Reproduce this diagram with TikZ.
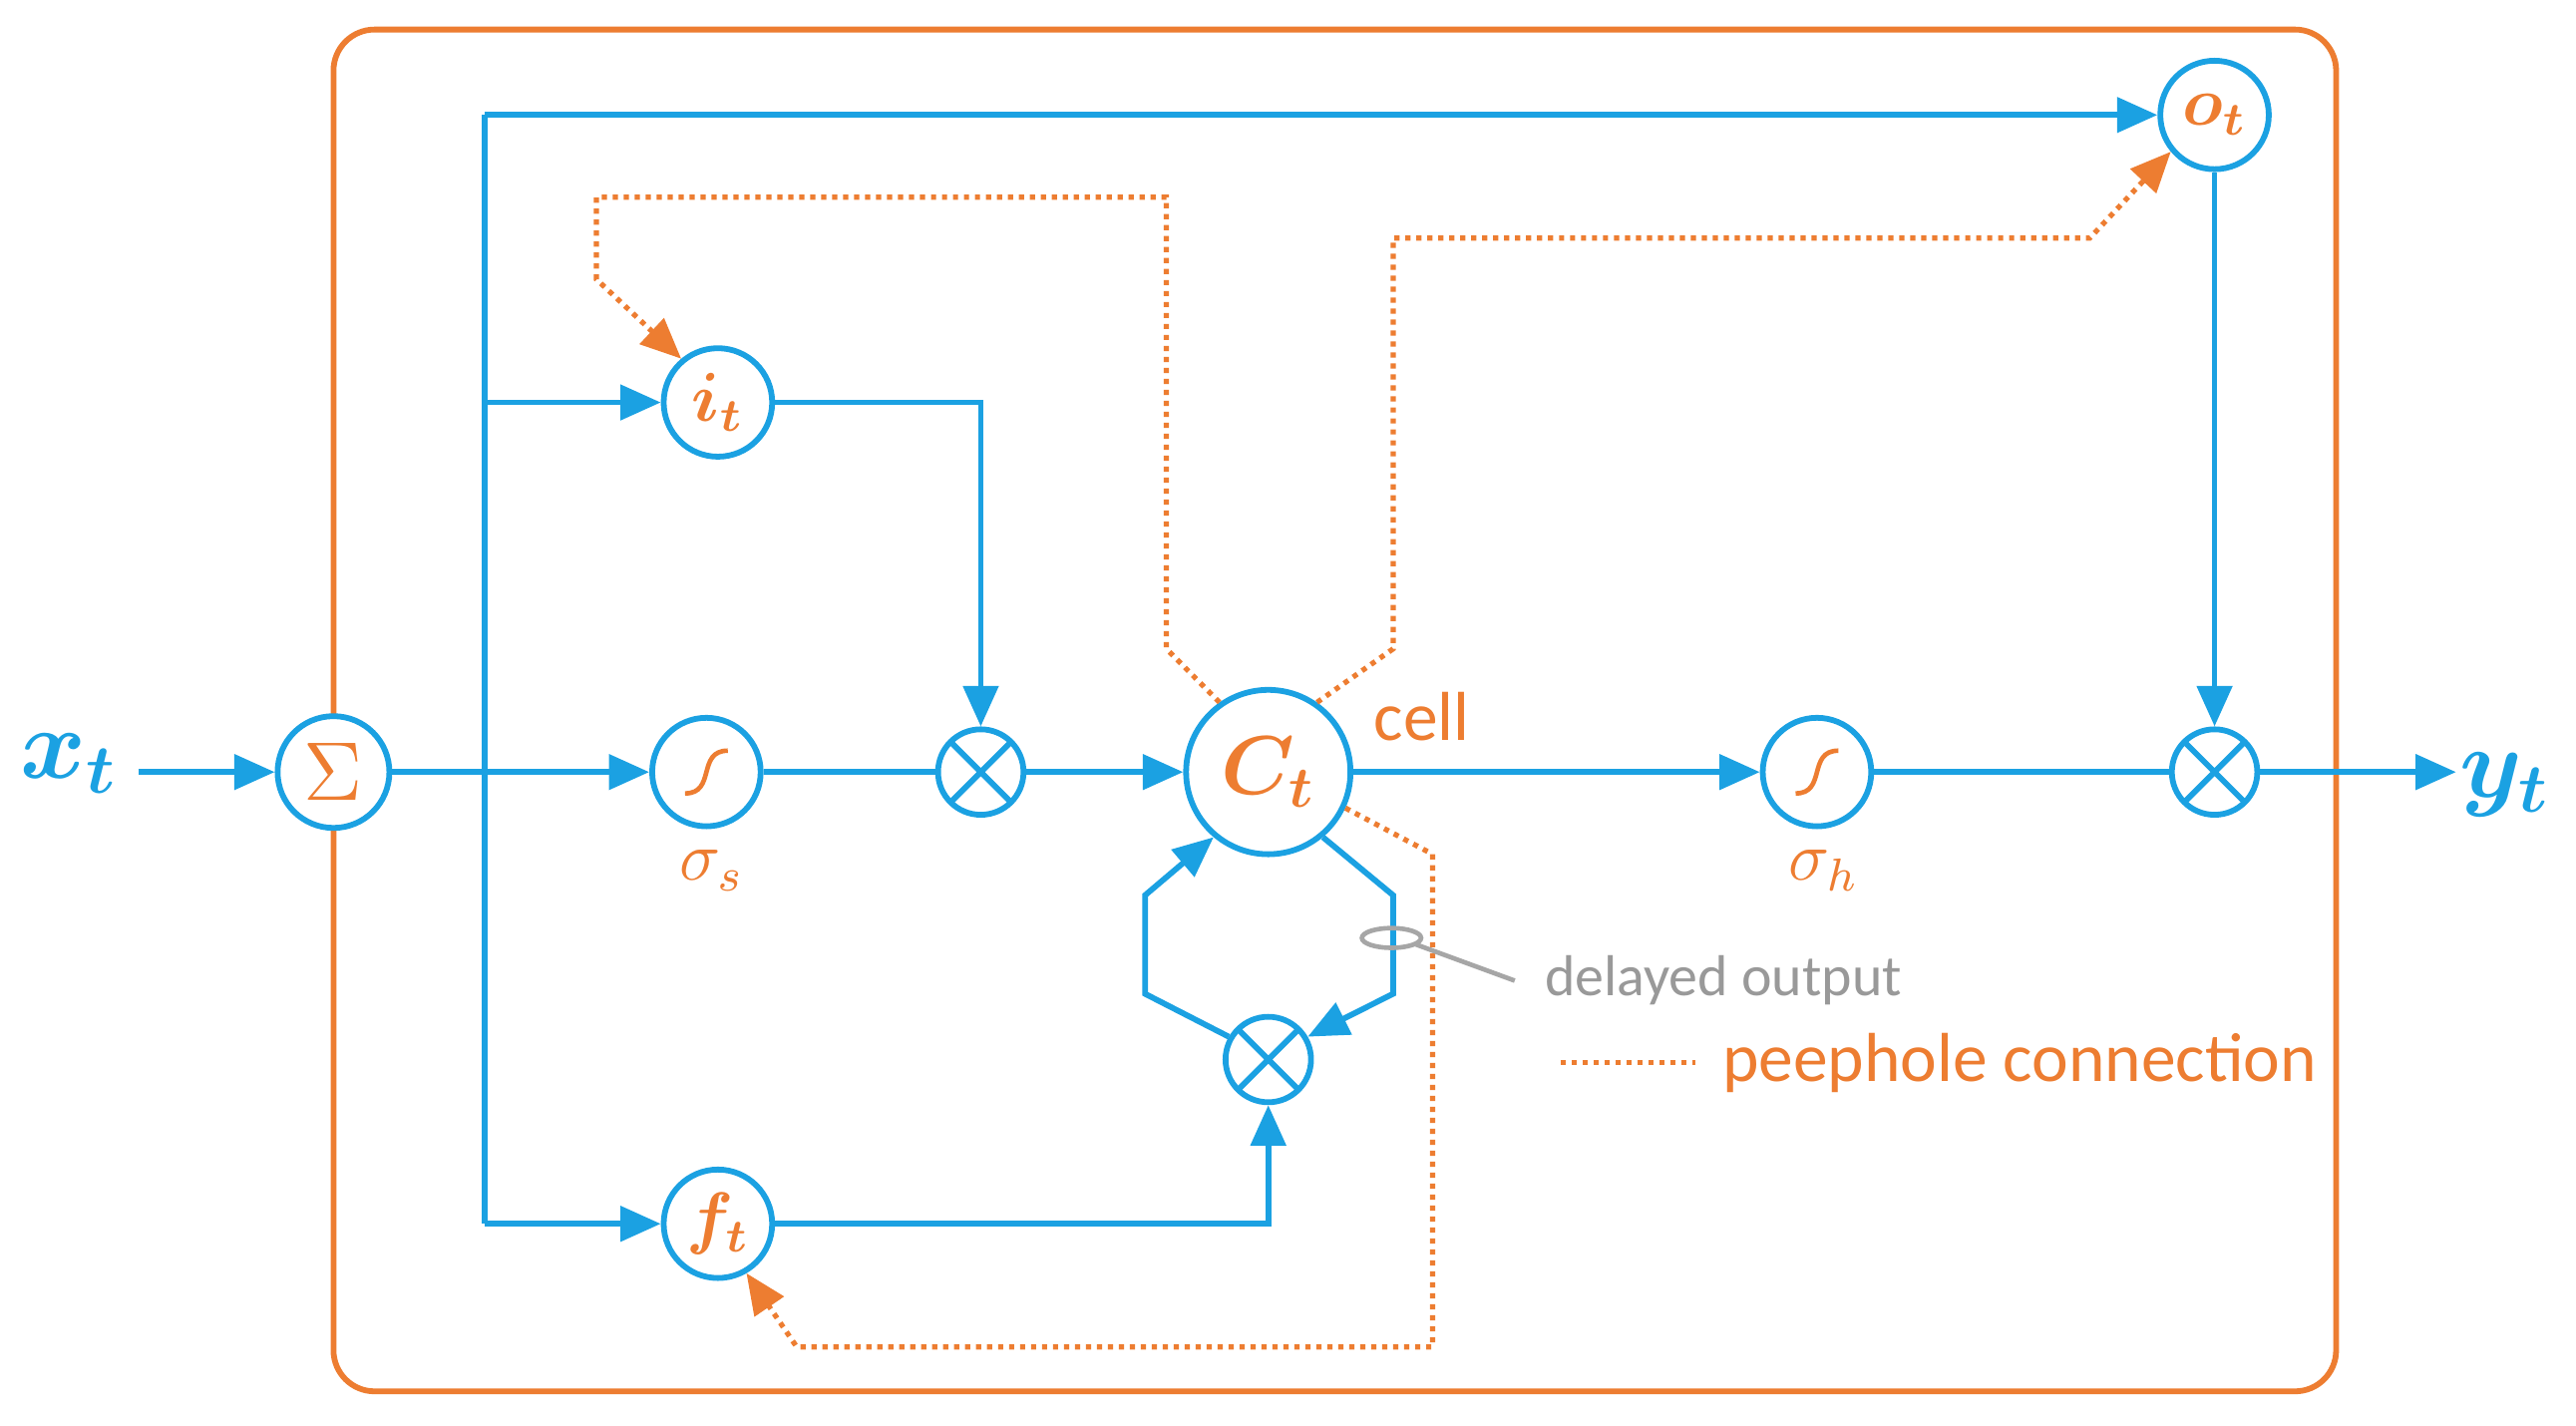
\documentclass[tikz,border=0pt]{standalone}
\usepackage{fontspec}
\usepackage{amsmath,bm}
\setmainfont{Carlito}
\usetikzlibrary{arrows.meta}
\definecolor{lblue}{RGB}{27,161,226}
\definecolor{lorange}{RGB}{237,125,49}
\tikzset{
  gate/.style={circle,draw=lblue,line width=1pt,fill=white,minimum size=0.66cm,inner sep=0pt,text=lorange},
  mult/.style={circle,draw=lblue,line width=1pt,fill=white,minimum size=0.52cm,inner sep=0pt,
    path picture={\draw[lblue,line width=1pt] (path picture bounding box.south west) -- (path picture bounding box.north east)
      (path picture bounding box.north west) -- (path picture bounding box.south east);}},
  flow/.style={lblue,line width=1pt,-{Triangle[length=7pt,width=6pt]}},
  link/.style={lblue,line width=1pt},
  peep/.style={lorange,densely dotted,line width=0.9pt},
  peeparrow/.style={peep,-{Triangle[length=7pt,width=6pt]}},
  lbl/.style={text=lorange,font=\large},
}
\newcommand{\sigmoid}{\tikz[x=1cm,y=1cm,baseline=-0.5ex]\draw[lorange,line width=0.8pt] (-0.13,-0.13) .. controls (0.06,-0.13) and (-0.06,0.13) .. (0.13,0.13);}
\begin{document}
\begin{tikzpicture}[x=0.01cm,y=-0.01cm]
\useasboundingbox (0,0) rectangle (1568,868);
\draw[lorange,line width=1pt,rounded corners=0.25cm] (203,18) rectangle (1422,847);

% nodes
\node[text=lblue,font=\LARGE] (x) at (42,465) {$\bm{x_t}$};
\node[text=lblue,font=\LARGE] (y) at (1525,478) {$\bm{y_t}$};
\coordinate (yin) at (1495,470);
\node[gate,minimum size=0.68cm,font=\Large] (sum) at (203,470) {$\Sigma$};
\node[gate,font=\large] (i) at (437,245) {$\bm{i_t}$};
\node[gate,font=\large] (f) at (437,745) {$\bm{f_t}$};
\node[gate,font=\large] (o) at (1348,70) {$\bm{o_t}$};
\node[gate] (ss) at (430,470) {\sigmoid};
\node[gate] (sh) at (1106,470) {\sigmoid};
\node[gate,minimum size=1cm,font=\Large] (c) at (772,470) {$\bm{C_t}$};
\node[mult] (m1) at (597,470) {};
\node[mult] (m2) at (772,645) {};
\node[mult] (m3) at (1348,470) {};
\node[lbl,font=\large] at (433,530) {$\sigma_s$};
\node[lbl,font=\large] at (1110,530) {$\sigma_h$};
\node[lbl,anchor=west] (cell) at (824,436) {cell};

% blue connections
\draw[flow] (x.east |- sum) -- (sum);
\draw[flow] (sum) -- (ss);
\draw[link] (295,745) -- (295,70);
\draw[flow] (295,70) -- (o);
\draw[flow] (295,245) -- (i);
\draw[flow] (295,745) -- (f);
\draw[flow] (i) -| (m1);
\draw[link] (ss) -- (m1);
\draw[flow] (m1) -- (c);
\draw[flow] (f) -| (m2);
\draw[flow] (c) -- (sh);
\draw[link] (sh) -- (m3);
\draw[flow] (o) -- (m3);
\draw[flow] (m3) -- (yin);
\draw[flow] (c.-50) -- (848,545) -- (848,605) -- (m2.30);
\draw[flow] (m2.150) -- (697,605) -- (697,545) -- (c.-130);

% peepholes
\draw[peeparrow] (c.125) -- (710,395) -- (710,120) -- (363,120) -- (363,170) -- (i.130);
\draw[peeparrow] (c.55) -- (848,395) -- (848,145) -- (1272,145) -- (o.-140);
\draw[peeparrow] (c.-25) -- (872,520) -- (872,820) -- (485,820) -- (f.-60);

% annotations
\draw[gray!70,line width=0.8pt] (847,571) ellipse (18 and 6);
\draw[gray!70,line width=0.8pt] (862,575) -- (922,597);
\node[text=gray!80,anchor=west,font=\normalsize] (dl) at (928,597) {delayed output};
\draw[peep] (950,647) -- (1032,647);
\node[lbl,anchor=west] (pl) at (1036,647) {peephole connection};
\end{tikzpicture}
\end{document}
